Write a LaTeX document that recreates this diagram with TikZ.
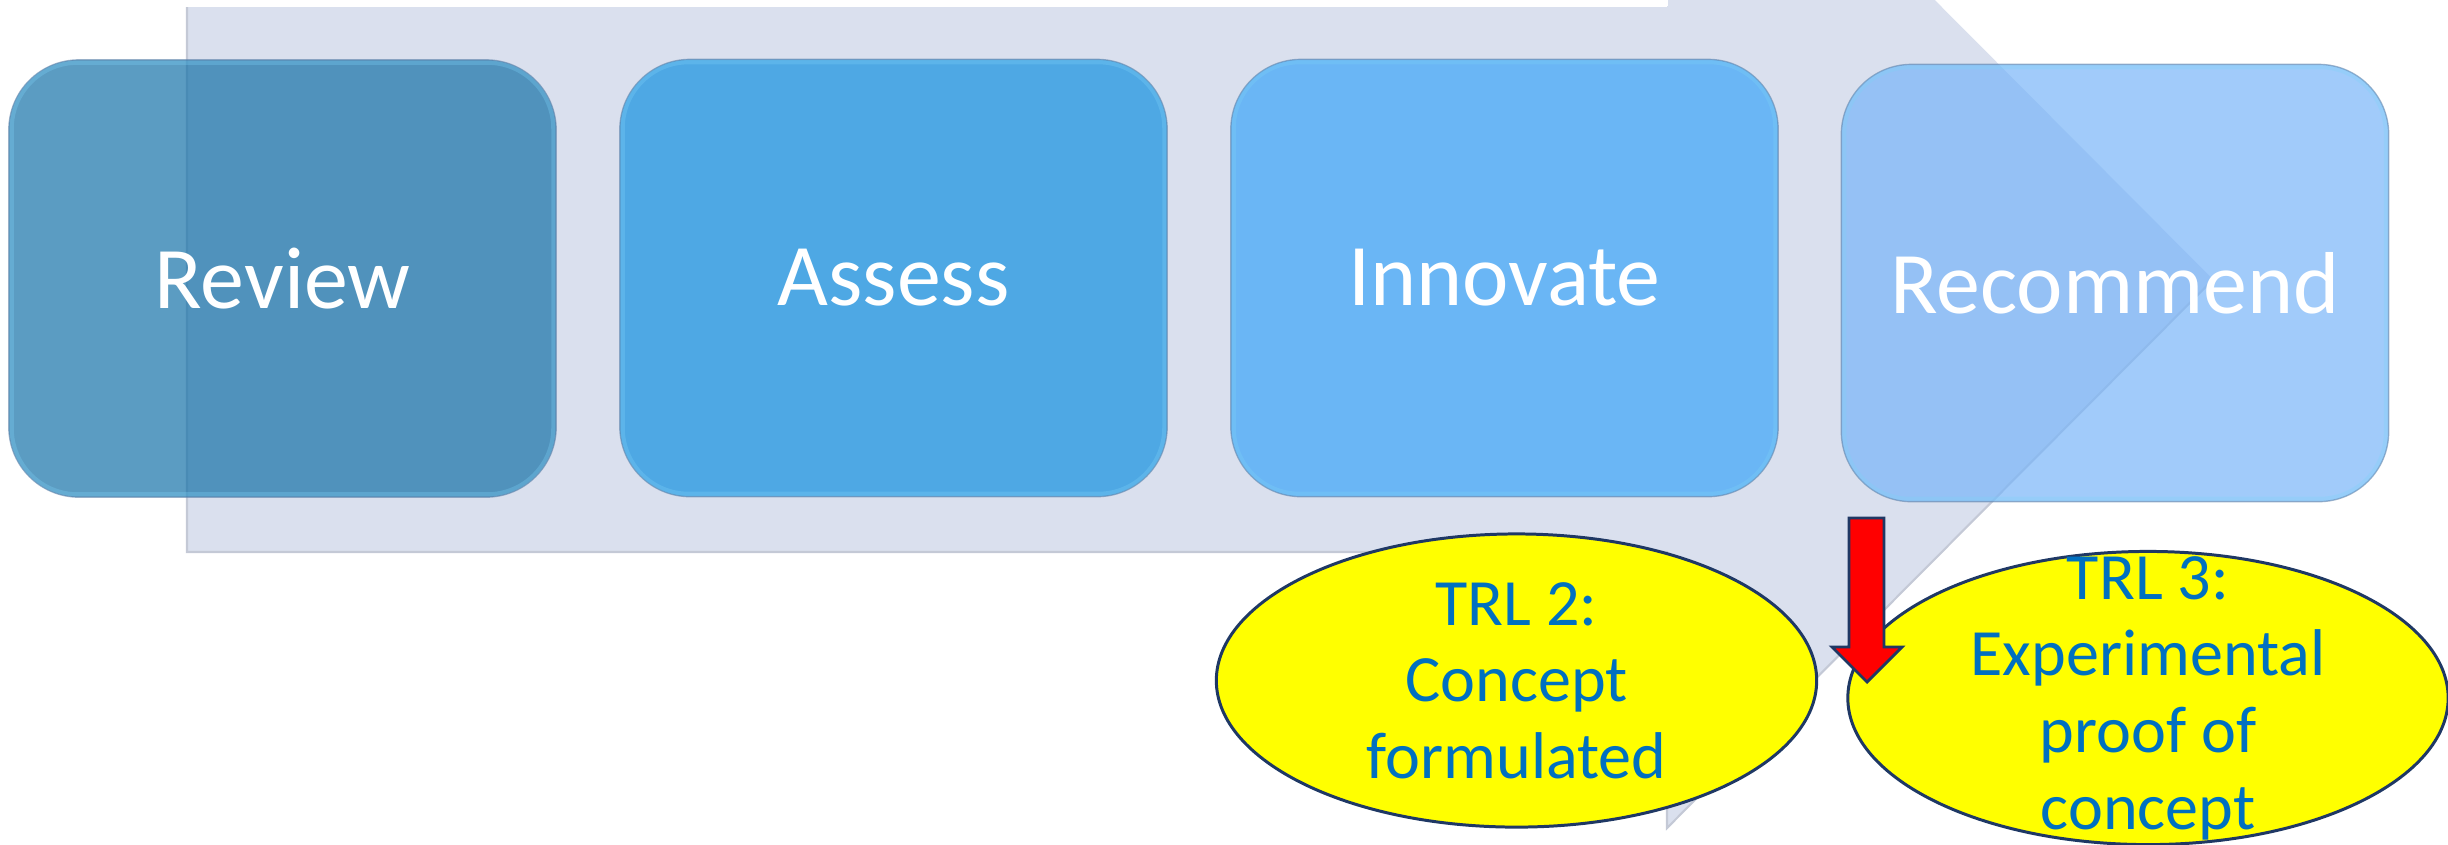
\documentclass[tikz,border=0pt]{standalone}
\usepackage{fontspec}
\setmainfont{Carlito}
\usetikzlibrary{shapes.geometric}

\definecolor{bandfill}{RGB}{218,224,238}
\definecolor{bandline}{RGB}{196,201,214}
\definecolor{reviewc}{RGB}{22,114,168}
\definecolor{assessc}{RGB}{19,145,224}
\definecolor{innovc}{RGB}{59,165,249}
\definecolor{recomc}{RGB}{121,181,248}
\definecolor{rimc}{RGB}{125,210,248}
\definecolor{edgec}{RGB}{95,130,170}
\definecolor{trlyellow}{RGB}{255,255,0}
\definecolor{trlline}{RGB}{31,56,100}
\definecolor{trltext}{RGB}{0,112,192}

\tikzset{
  stagebox/.style={rectangle, rounded corners=0.7cm, minimum width=5.47cm,
    minimum height=4.37cm, inner sep=0pt, fill opacity=0.7, text opacity=1,
    draw=edgec, draw opacity=0.6, line width=0.4pt, text=white,
    font=\fontsize{25}{30}\selectfont},
  stagerim/.style={rimc, rounded corners=0.66cm, line width=1.2pt, opacity=0.3},
  trlshape/.style={ellipse, minimum width=6.0cm, minimum height=2.93cm,
    inner sep=0pt, fill=trlyellow, draw=trlline, line width=0.85pt},
  trllabel/.style={align=center, text=trltext, inner sep=0pt,
    font=\fontsize{18.8}{21.8}\selectfont},
}

\begin{document}
\begin{tikzpicture}[x=0.01cm, y=-0.01cm]
\useasboundingbox (0,0) rectangle (2448,844);

% wide background arrow running behind the four stages
\fill[bandfill] (187,7) -- (1667,7) -- (1667,-269) -- (2213,279.5)
  -- (1667,828) -- (1667,552) -- (187,552) -- cycle;
\draw[bandline, line width=0.6pt] (187,7) -- (187,552) -- (1667,552) -- (1667,828)
  -- (2213,279.5);
\draw[white, line width=0.8pt] (187,5) -- (1667,5) -- (1667,-269);

% the four process stages
\node[stagebox, fill=reviewc] (review) at (282.5,278.5) {Review};
\node[stagebox, fill=assessc] (assess) at (893.5,278) {Assess};
\node[stagebox, fill=innovc] (innovate) at (1504.5,278) {Innovate};
\node[stagebox, fill=recomc] (recommend) at (2115,283) {Recommend};

% soft bevel highlight just inside each stage
\foreach \s in {review,assess,innovate,recommend}
  \draw[stagerim] ([shift={(0.035cm,0.035cm)}]\s.south west)
    rectangle ([shift={(-0.035cm,-0.035cm)}]\s.north east);

% technology readiness levels
\node[trlshape] (trl2) at (1516.5,680.5) {};
\node[trllabel] (trl2text) at (trl2.center) {TRL 2:\\Concept\\formulated};
\node[trlshape] (trl3) at (2148,698) {};
\node[trllabel] (trl3text) at (trl3.center) {TRL 3:\\Experimental\\proof of\\concept};

% red block arrow pointing down onto TRL 3
\filldraw[fill=red, draw=trlline, line width=0.8pt, line join=miter]
  (1849,518) -- (1884,518) -- (1884,647) -- (1902,647) -- (1867,682)
  -- (1832,647) -- (1849,647) -- cycle;
\end{tikzpicture}
\end{document}
